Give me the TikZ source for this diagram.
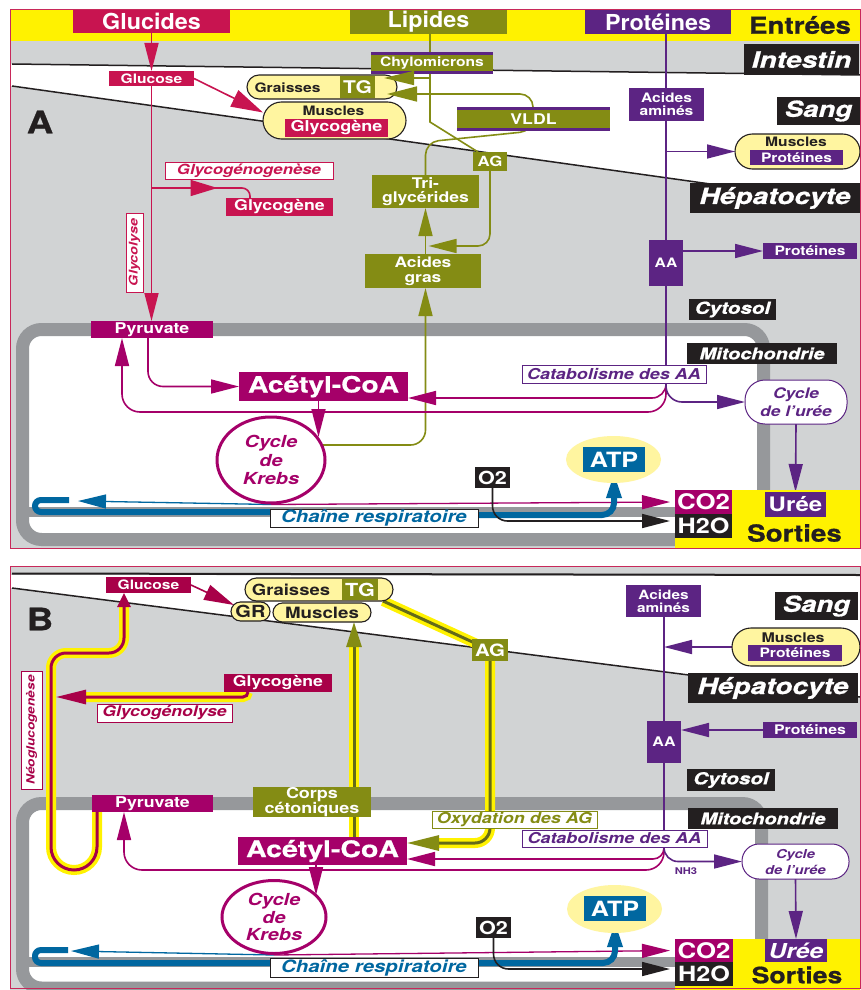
\documentclass[tikz,border=0pt]{standalone}
\usepackage{fontspec}
\setmainfont{TeX Gyre Heros}
\newfontfamily\fN[FakeStretch=1.06]{TeX Gyre Heros}
\newfontfamily\fW[FakeStretch=1.2]{TeX Gyre Heros}
\newfontfamily\fX[FakeStretch=1.25,FakeBold=0.8]{TeX Gyre Heros}
\newfontfamily\fH[FakeStretch=1.18,FakeBold=0.8]{TeX Gyre Heros}
\usetikzlibrary{arrows.meta,shapes.geometric}
\definecolor{gluc}{RGB}{200,20,80}
\definecolor{glucB}{RGB}{168,0,72}
\definecolor{mag}{RGB}{165,0,105}
\definecolor{oli}{RGB}{132,140,20}
\definecolor{oliD}{RGB}{100,106,25}
\definecolor{pur}{RGB}{92,36,131}
\definecolor{yel}{RGB}{255,242,0}
\definecolor{paleY}{RGB}{255,245,160}
\definecolor{greyBg}{RGB}{209,211,212}
\definecolor{mem}{RGB}{150,152,155}
\definecolor{bl}{RGB}{0,103,160}
\definecolor{bk}{RGB}{35,31,32}
\definecolor{frameC}{RGB}{200,40,90}
\pgfdeclarelayer{bg}\pgfdeclarelayer{conn}\pgfdeclarelayer{front}
\pgfsetlayers{bg,conn,main,front}
\newcommand{\mkbox}[7]{\node[#2,minimum width={((#5)-(#3))*1pt},minimum height={((#6)-(#4))*1pt}] (#1) at ({((#3)+(#5))/2},{((#4)+(#6))/2}) {#7};}
\tikzset{
 bx/.style={rectangle,inner sep=0pt,outer sep=0pt,text=white,align=center},
 fw/.style 2 args={font=\fW\bfseries\fontsize{#1}{#2}\selectfont},
 fwi/.style 2 args={font=\fW\bfseries\itshape\fontsize{#1}{#2}\selectfont},
 fn/.style={font=\fN\bfseries\fontsize{#1}{#1}\selectfont},
 fh/.style={font=\fH\bfseries\fontsize{#1}{#1}\selectfont},
 fxi/.style={font=\fX\bfseries\itshape\fontsize{#1}{#1}\selectfont},
 fxu/.style={font=\fX\bfseries\fontsize{#1}{#1}\selectfont},
 blk/.style={bx,fill=bk,fxi=#1},
 lbl/.style={bx,fill=white,draw=#1,line width=1pt,text=#1},
 pill/.style={rectangle,inner sep=0pt,outer sep=0pt,fill=paleY,draw=bk,line width=1.1pt,rounded corners=#1},
 ln/.style={line width=1.6pt,draw=#1},
 arr/.style={-{Triangle[length=28pt,width=14pt]}},
 hlM/.style={line width=3pt,draw=glucB,preaction={draw=yel,line width=10pt,-,shorten >=#1}},
 hlO/.style={line width=3pt,draw=oliD,preaction={draw=yel,line width=10pt,-,shorten >=#1}},
 plain/.style={inner sep=0pt,text=bk}
}
\begin{document}
\begin{tikzpicture}[x=1pt,y=-1pt]
\useasboundingbox (0,0) rectangle (861,990);
\begin{pgfonlayer}{bg}
\fill[white] (0,0) rectangle (861,990);
% panel A
\fill[greyBg] (10,10) rectangle (860,548);
\fill[white] (10,64) -- (860,75) -- (860,205) -- (10,86) -- cycle;
\fill[yel] (10,10) rectangle (860,41);
\draw[mem,line width=13pt,fill=white,rounded corners=19pt] (22.5,329.5) rectangle (763.5,539.5);
\fill[mem] (29,507) rectangle (675,517);
\draw[bk,line width=1.5pt] (12,64) -- (860,75);
\draw[bk,line width=1.5pt] (12,86) -- (860,205);
% panel B
\fill[greyBg] (10,566) rectangle (860,990);
\fill[white] (10,575) -- (860,576) -- (860,697) -- (10,588) -- cycle;
\draw[mem,line width=13pt,fill=white,rounded corners=19pt] (22.5,803.5) rectangle (761.5,988);
\fill[mem] (29,957) rectangle (675,967);
\draw[bk,line width=2pt] (12,573.5) -- (860,575);
\draw[bk,line width=1.5pt] (12,588) -- (860,697);
\end{pgfonlayer}

% ================= PANEL A nodes =================
\mkbox{glucides}{bx,fill=gluc,fn=22}{73}{10}{230}{33}{Glucides}
\mkbox{lipides}{bx,fill=oli,fn=22}{350}{10}{507}{34}{Lipides}
\mkbox{proteines}{bx,fill=pur,fn=22}{585}{10}{731}{34}{Protéines}
\node[plain,fh=23.5] (entrees) at (800,25) {Entrées};
\mkbox{intestin}{blk=22.5}{744}{44}{859}{75}{Intestin}
\mkbox{sangA}{blk=22}{777}{97}{860}{125}{Sang}
\mkbox{hepA}{blk=22.5}{690}{183}{860}{213}{Hépatocyte}
\mkbox{cytA}{blk=16.5}{689}{299}{776}{320}{Cytosol}
\mkbox{mitoA}{blk=16}{687}{343}{837}{364}{Mitochondrie}
\node[plain,fh=31] (labA) at (40,122) {A};

\mkbox{glucA}{bx,fill=gluc,fw={13}{13}}{109}{71}{194}{86}{Glucose}
\mkbox{tgPA}{pill=12pt}{247}{75}{397}{99}{}
\node[plain,fw={13}{13}] (graisA) at (287.5,87.5) {Graisses};
\mkbox{tgA}{bx,fill=oli,fw={17.5}{17.5}}{340}{76}{375}{98}{TG}
\mkbox{musGA}{pill=18.5pt}{263}{102}{406}{139}{}
\node[plain,fw={13}{13}] (musA) at (333.5,111) {Muscles};
\mkbox{glygPA}{bx,fill=gluc,fw={15}{15}}{285}{119}{388}{137}{Glycogène}
\mkbox{chylo}{bx,fill=oli,fw={13}{13}}{371}{52}{493}{74}{Chylomicrons}
\fill[pur] (chylo.north west) rectangle ([yshift=-3pt]chylo.north east);
\fill[pur] (chylo.south west) rectangle ([yshift=3pt]chylo.south east);
\mkbox{vldl}{bx,fill=oli,fw={14.7}{14.7}}{457}{107}{610}{131}{VLDL}
\fill[pur] (vldl.north west) rectangle ([yshift=-3pt]vldl.north east);
\fill[pur] (vldl.south west) rectangle ([yshift=3pt]vldl.south east);
\mkbox{agA}{bx,fill=oli,fw={14}{14}}{473}{152}{507}{171}{AG}
\mkbox{trig}{bx,fill=oli,fw={14.7}{14}}{372}{175}{479}{208}{Tri-\\glycérides}
\mkbox{acg}{bx,fill=oli,fw={14.5}{15}}{365}{254}{481}{288}{Acides\\gras}
\mkbox{aminesA}{bx,fill=pur,fw={13}{13.3}}{629}{88}{704}{121}{Acides\\aminés}
\mkbox{musPA}{pill=17.5pt}{735}{134}{860}{169}{}
\node[plain,fw={13}{13}] (musPAt) at (796,142) {Muscles};
\mkbox{protPA}{bx,fill=pur,fw={13}{13}}{750}{150}{843}{165}{Protéines}
\mkbox{aaA}{bx,fill=pur,fw={13}{13}}{649}{240}{683}{286}{AA}
\mkbox{protHA}{bx,fill=pur,fw={13}{13}}{763}{243}{857}{259}{Protéines}
\mkbox{ggenA}{lbl=gluc,fwi={14}{14}}{165}{162}{333}{179}{Glycogénogenèse}
\mkbox{glygA}{bx,fill=gluc,fw={14.8}{14.8}}{226}{198}{333}{216}{Glycogène}
\node[lbl=gluc,fwi={12}{12},rotate=90,minimum width=79pt,minimum height=17pt] (glycol) at (134.5,252.5) {Glycolyse};
\mkbox{pyrA}{bx,fill=mag,fw={14.8}{14.8}}{91}{321}{213}{338}{Pyruvate}
\mkbox{acetA}{bx,fill=mag,fxu=22.5}{239}{372}{408}{401}{Acétyl-CoA}
\node[ellipse,draw=mag,line width=3pt,fill=white,minimum width=108pt,minimum height=86pt,inner sep=0pt] (krebsA) at (271,460) {};
\node[fwi={16.6}{18.3},text=mag,align=center,inner sep=0pt] (krebsAt) at (271,460) {Cycle\\de\\Krebs};
\mkbox{catA}{lbl=pur,fwi={15}{15}}{522}{365}{706}{383}{Catabolisme des AA}
\mkbox{ureeCA}{bx,fill=white,draw=pur,line width=1pt,rounded corners=20pt,text=pur,fwi={14.5}{18}}{745}{380}{847}{424}{Cycle\\de l’urée}
\node[ellipse,fill=paleY,minimum width=95pt,minimum height=47pt,inner sep=0pt] (atpEA) at (613.5,459.5) {};
\mkbox{atpA}{bx,fill=bl,fw={21}{21}}{583}{447}{645}{472}{ATP}
\mkbox{o2A}{bx,fill=bk,fw={18}{18}}{475}{467}{510}{488}{O2}
\mkbox{chainA}{bx,fill=white,draw=bk,line width=1pt,text=bl,fwi={17}{17}}{270}{509}{478}{527}{Chaîne respiratoire}
\mkbox{sortA}{bx,fill=yel}{675}{490}{860}{548}{}
\mkbox{co2A}{bx,fill=mag,fw={21.5}{21.5}}{675}{490}{732}{514}{CO2}
\mkbox{h2oA}{bx,fill=bk,fw={21}{21}}{675}{514}{732}{538}{H2O}
\mkbox{ureeA}{bx,fill=pur,fw={20}{20}}{765}{492}{826}{517}{Urée}
\node[plain,fh=23.5] (sortiesA) at (794.5,533) {Sorties};

% ================= PANEL B nodes =================
\node[plain,fh=31] (labB) at (40,619) {B};
\mkbox{glucBb}{bx,fill=glucB,fw={13}{13}}{106}{577}{191}{593}{Glucose}
\mkbox{tgPB}{pill=11.5pt}{245}{578}{393}{601}{}
\node[plain,fw={15.4}{15.4}] (graisB) at (291,589.5) {Graisses};
\mkbox{tgB}{bx,fill=oli,fw={18}{18}}{342}{579}{378}{600}{TG}
\mkbox{grB}{pill=9.5pt,fw={16.7}{16.7},text=bk}{231}{602}{270}{621}{GR}
\mkbox{musB}{pill=9.5pt,fw={15.6}{15.6},text=bk}{273}{603}{371}{622}{Muscles}
\mkbox{aminesB}{bx,fill=pur,fw={12.8}{13.3}}{626}{585}{701}{617}{Acides\\aminés}
\mkbox{sangB}{blk=22}{775}{592}{858}{620}{Sang}
\mkbox{musPB}{pill=19pt}{732}{628}{860}{666}{}
\node[plain,fw={13.3}{13.3}] (musPBt) at (793,638) {Muscles};
\mkbox{protPB}{bx,fill=pur,fw={13}{13}}{748}{645}{842}{661}{Protéines}
\mkbox{agB}{bx,fill=oli,fw={17}{17}}{472}{639}{508}{661}{AG}
\mkbox{hepB}{blk=22.5}{688}{673}{858}{703}{Hépatocyte}
\mkbox{glycB}{bx,fill=glucB,fw={14.7}{14.7}}{224}{674}{332}{692}{Glycogène}
\mkbox{glyLB}{lbl=glucB,fwi={14.7}{14.7}}{97}{704}{232}{722}{Glycogénolyse}
\node[lbl=glucB,fwi={11.4}{11.4},rotate=90,minimum width=118pt,minimum height=21pt] (neoL) at (31.5,730) {Néoglucogenèse};
\mkbox{aaB}{bx,fill=pur,fw={13.3}{13.3}}{647}{721}{681}{763}{AA}
\mkbox{protHB}{bx,fill=pur,fw={13.2}{13.2}}{763}{722}{857}{738}{Protéines}
\mkbox{cytB}{blk=16.5}{687}{769}{775}{791}{Cytosol}
\mkbox{pyrB}{bx,fill=mag,fw={14.8}{14.8}}{92}{795}{213}{812}{Pyruvate}
\mkbox{corps}{bx,fill=oli,fw={15}{12}}{253}{789}{371}{815}{Corps\\cétoniques}
\mkbox{mitoB}{blk=16}{688}{808}{838}{829}{Mitochondrie}
\mkbox{oxyd}{lbl=oli,fwi={15}{15}}{432}{811}{597}{828}{Oxydation des AG}
\mkbox{catB}{lbl=pur,fwi={15}{15}}{522}{830}{707}{847}{Catabolisme des AA}
\mkbox{acetB}{bx,fill=mag,fxu=22.8}{238}{837}{407}{865}{Acétyl-CoA}
\mkbox{ureeCB}{bx,fill=white,draw=pur,line width=1pt,rounded corners=17pt,text=pur,fwi={12.3}{16}}{742}{844}{849}{879}{Cycle\\de l’urée}
\node[fw={9.3}{9.3},text=pur,inner sep=0pt] (nh3) at (686,871) {NH3};
\node[ellipse,draw=mag,line width=3pt,fill=white,minimum width=104pt,minimum height=73pt,inner sep=0pt] (krebsB) at (274,917) {};
\node[fwi={16.6}{17.5},text=mag,align=center,inner sep=0pt] (krebsBt) at (274,917) {Cycle\\de\\Krebs};
\node[ellipse,fill=paleY,minimum width=95pt,minimum height=48pt,inner sep=0pt] (atpEB) at (614.5,909) {};
\mkbox{atpB}{bx,fill=bl,fw={21}{21}}{584}{896}{646}{921}{ATP}
\mkbox{o2B}{bx,fill=bk,fw={18}{18}}{476}{917}{511}{938}{O2}
\mkbox{chainB}{bx,fill=white,draw=bk,line width=1pt,text=bl,fwi={17}{17}}{270}{958}{478}{977}{Chaîne respiratoire}
\mkbox{sortB}{bx,fill=yel}{675}{939}{860}{990}{}
\mkbox{co2B}{bx,fill=mag,fw={21.5}{21.5}}{675}{939}{733}{962}{CO2}
\mkbox{h2oB}{bx,fill=bk,fw={21}{21}}{675}{962}{733}{986}{H2O}
\mkbox{ureeBB}{bx,fill=pur,fwi={20.6}{20.6}}{765}{939}{827}{962}{Urée}
\node[plain,fh=22.5] (sortiesB) at (797,975) {Sorties};

% ================= connectors =================
\begin{pgfonlayer}{conn}
% --- A: glucides
\draw[ln=gluc,arr] (glucides.south) -- (glucA.north);
\draw[ln=gluc,arr] (glucA.south) -- (glucA.south |- pyrA.north);
\draw[ln=gluc,-{Triangle[length=32pt,width=18pt]}] (glucA.east) -- ([yshift=8pt]musGA.west);
\coordinate (gsplit) at (glucA.south |- 0,188);
\draw[ln=gluc,-{Triangle[length=27pt,width=16pt]}] (gsplit) -- ++(66,0);
\draw[ln=gluc,rounded corners=8pt] ([xshift=60pt]gsplit) -- ([xshift=-29.5pt]glygA.north |- gsplit) -- ([xshift=-29.5pt]glygA.north);
% --- A: lipides
\draw[ln=oli] ([xshift=1.5pt]lipides.south) -- ([xshift=1.5pt]lipides.south |- 0,122) -- ([xshift=5pt]agA.north west);
\draw[ln=oli,rounded corners=13pt] (trig.north) -- (trig.north |- 0,142) -- (vldl.south -| 533,0) -- (533,94) -- ([xshift=46pt]tgA.east |- 0,94);
\draw[ln=oli,arr,rounded corners=12pt] (agA.south) -- (agA.south |- 0,246) -- ([xshift=3pt]trig.south |- 0,246);
\draw[ln=oli,arr] (trig.south |- acg.north) -- (trig.south);
\draw[ln=oli,arr,rounded corners=15pt] ([yshift=15pt]krebsA.center) -- (trig.south |- 0,445) -- (trig.south |- acg.south);
% --- A: mitochondrie
\draw[ln=mag,arr,rounded corners=15pt] ([xshift=-4pt]pyrA.south) -- ([xshift=-4pt]pyrA.south |- acetA.west) -- (acetA.west);
\draw[ln=mag,arr] ([xshift=-5pt]acetA.south) -- ([xshift=-5pt]acetA.south |- 0,437);
\coordinate (catbot) at (aaA.south |- catA.south);
\draw[ln=mag,arr,rounded corners=14pt] (catbot) -- ([yshift=-15pt]catbot) -- (acetA.east |- 0,398);
\draw[ln=mag,arr,rounded corners=18pt] (catbot) -- (catbot |- 0,412) -- ([xshift=-30pt]pyrA.south |- 0,412) -- ([xshift=-30pt]pyrA.south);
\draw[ln=pur,arr,rounded corners=16pt] (catbot) -- (catbot |- ureeCA.west) -- (ureeCA.west);
\draw[ln=pur] (aaA.north |- proteines.south) -- (catbot |- catA.north);
\draw[ln=pur,arr] (aaA.north |- musPA.west) -- (musPA.west);
\draw[ln=pur,arr] (aaA.east |- protHA.west) -- (protHA.west);
\draw[ln=pur,arr] (ureeCA.south) -- (ureeA.north);
\draw[line width=1.3pt,mag,arr,shorten >=5pt] (krebsA.south) -- (co2A.west);
\coordinate (btipA) at (78,501);
\draw[line width=1.3pt,bl,arr] (krebsA.south) -- (btipA);
\draw[line width=6pt,bl,rounded corners=6pt] (chainA.west |- 0,512) -- (35,512) -- (35,500) -- (69,500);
\draw[line width=6pt,bl,-{Triangle[length=26pt,width=14pt]},rounded corners=12pt] (chainA.east |- 0,515) -- (atpA.south |- 0,515) -- (atpA.south);
\draw[line width=1.6pt,bk,arr,rounded corners=15pt,shorten >=5pt] (o2A.south) -- (o2A.south |- 0,521) -- ([yshift=5pt]h2oA.west);

% --- B
\draw[ln=glucB,-{Triangle[length=30pt,width=16pt]}] (glucBb.east) -- ([shift={(3pt,-3pt)}]grB.north west);
\draw[hlM=12pt,-{Triangle[length=14pt,width=13pt]}] ([xshift=5pt]pyrB.south west) [rounded corners=23pt] -- ([xshift=5pt]pyrB.south west |- 0,870) -- (51,870) -- (51,700) [rounded corners=15pt] -- (51,653) -- ([xshift=-24.5pt]glucBb.south |- 0,653) -- ([xshift=-24.5pt]glucBb.south);
\coordinate (gnTip) at (56,697);
\draw[hlM=26pt,-{Triangle[length=30pt,width=14pt]},rounded corners=5pt] ([xshift=24pt]glycB.south west) -- ([xshift=24pt]glycB.south west |- gnTip) -- (gnTip);
\draw[hlO=22pt,-{Triangle[length=25pt,width=15pt,color=oli]}] ([xshift=31.5pt]acetB.north) -- ([xshift=31.5pt]acetB.north |- musB.south);
\draw[hlO=0pt] ([xshift=-10pt]tgPB.south east) -- (agB.center);
\draw[hlO=28pt,-{Triangle[length=32pt,width=15pt,color=oli]},rounded corners=15pt] (agB.center) -- (agB.center |- 0,843) -- (acetB.east |- 0,843);
\coordinate (catbotB) at (aaB.south |- catB.south);
\draw[ln=mag,arr,rounded corners=11pt] (catbotB) -- ([yshift=-12pt]catbotB) -- (acetB.east |- 0,859);
\draw[ln=mag,arr,rounded corners=18pt] (catbotB) -- (catbotB |- 0,870) -- ([xshift=-28.5pt]pyrB.south |- 0,870) -- ([xshift=-28.5pt]pyrB.south);
\draw[ln=pur,arr,rounded corners=14pt] (catbotB) -- (catbotB |- ureeCB.west) -- (ureeCB.west);
\draw[ln=pur] (aaB.north |- aminesB.south) -- (catbotB |- catB.north);
\draw[ln=pur,arr] (musPB.west) -- (aaB.north |- musPB.west);
\draw[ln=pur,arr] (protHB.west) -- (aaB.east |- protHB.west);
\draw[ln=pur,arr] (ureeCB.south) -- (ureeBB.north);
\draw[ln=mag,arr] ([xshift=-6.5pt]acetB.south) -- ([xshift=-6.5pt]acetB.south |- 0,895);
\draw[line width=1.3pt,mag,arr,shorten >=5pt] (krebsB.south) -- (co2B.west);
\coordinate (btipB) at (71,951);
\draw[line width=1.3pt,bl,arr] (krebsB.south) -- (btipB);
\draw[line width=6pt,bl,rounded corners=6pt] (chainB.west |- 0,963) -- (35,963) -- (35,950) -- (68,950);
\draw[line width=6pt,bl,-{Triangle[length=26pt,width=14pt]},rounded corners=12pt] (chainB.east |- 0,963) -- (atpB.south |- 0,963) -- (atpB.south);
\draw[line width=1.6pt,bk,arr,rounded corners=15pt,shorten >=5pt] (o2B.south) -- (o2B.south |- 0,969) -- ([yshift=5pt]h2oB.west);
\end{pgfonlayer}

\begin{pgfonlayer}{front}
\draw[ln=oli,-{Triangle[length=30pt,width=14pt]}] ([xshift=1.5pt]lipides.south |- 0,78) -- ([xshift=9pt]tgA.east |- 0,78);
\draw[ln=oli,-{Triangle[length=30pt,width=15pt]}] ([xshift=46pt]tgA.east |- 0,94) -- ([xshift=12pt]tgA.east |- 0,94);
\draw[frameC,line width=1pt] (10,10) rectangle (860,548);
\draw[frameC,line width=1pt] (10,566) rectangle (860,988);
\end{pgfonlayer}
\end{tikzpicture}
\end{document}
